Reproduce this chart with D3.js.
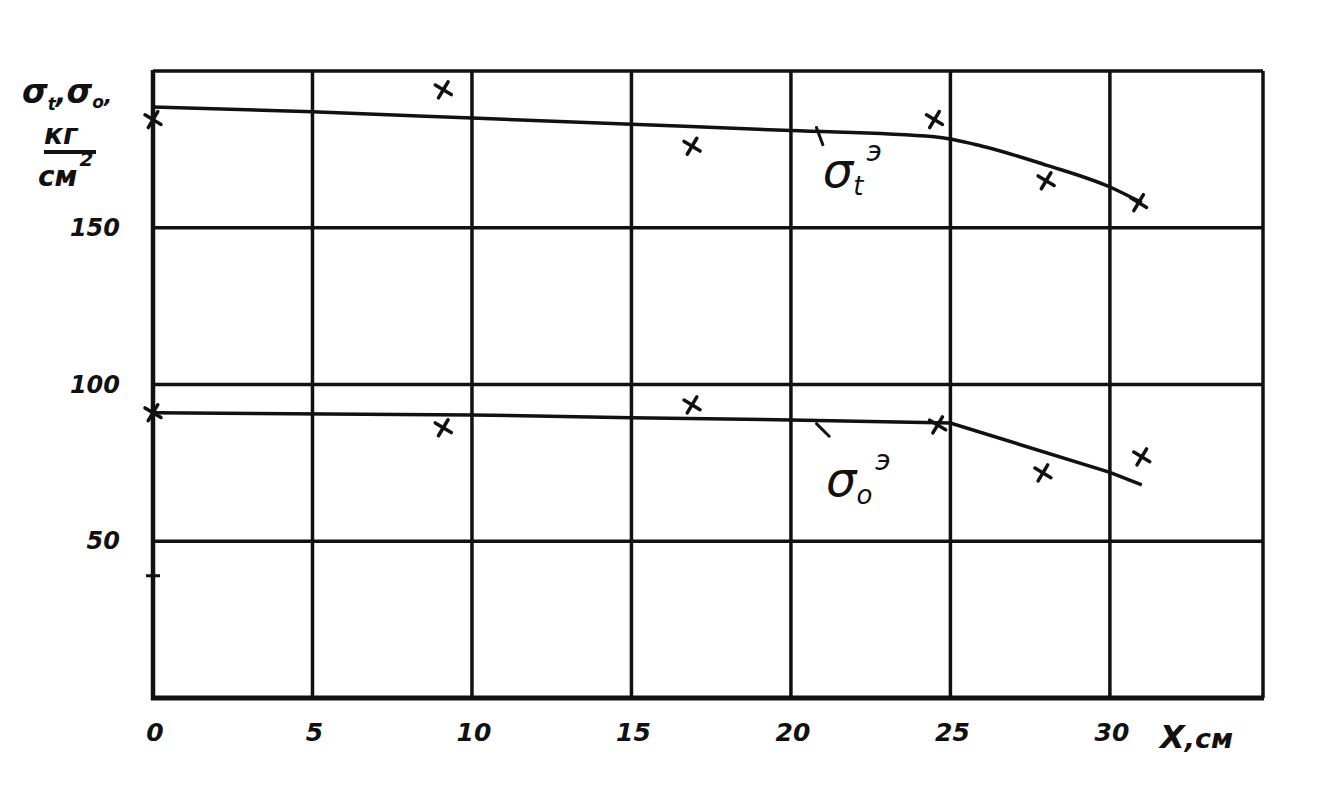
<!DOCTYPE html>
<html>
<head>
<meta charset="utf-8">
<script src="https://cdn.jsdelivr.net/npm/d3@7"></script>
<style>
  html, body { margin: 0; padding: 0; background: #fff; }
  svg text { font-family: "DejaVu Sans", sans-serif; fill: #111; }
</style>
</head>
<body>
<svg id="chart" width="1333" height="794"></svg>
<script>
// ---- data ----
const xTicks = [0, 5, 10, 15, 20, 25, 30];
const xTickLabels = ["0", "5", "10", "15", "20", "25", "30"];
const yGrid = [50, 100, 150, 200];
const yTickValues = [50, 100, 150];
const yTickLabels = ["50", "100", "150"];
const xDomain = [0, 34.8];
const yDomain = [0, 200];

// σt (upper) measured points
const sigmaTPointsX = [0, 9.1, 16.9, 24.5, 28.0, 30.9];
const sigmaTPointsY = [184.5, 194, 176, 184.5, 165, 158];
// σt smoothed curve
const sigmaTCurveX = [0, 5, 10, 15, 20, 24.5, 26, 28, 30, 31];
const sigmaTCurveY = [188.5, 187, 185, 183, 181, 179, 176, 170, 163, 158];

// σo (lower) measured points
const sigmaOPointsX = [0, 9.1, 16.9, 24.6, 27.9, 31.0];
const sigmaOPointsY = [91, 86.2, 93.5, 87.1, 71.8, 76.9];
// σo curve
const sigmaOCurveX = [0, 10, 15, 20, 25, 30, 31];
const sigmaOCurveY = [91, 90.3, 89.4, 88.7, 87.7, 72, 68];

// stray mark on the y axis
const strayMark = [0, 39];

// ---- scales ----
const svg = d3.select("#chart");
const x = d3.scaleLinear().domain(xDomain).range([153, 1263]);
const y = d3.scaleLinear().domain(yDomain).range([698, 71]);

const ink = "#111";

// grid: vertical lines
svg.append("g").selectAll("line").data(xTicks.slice(1)).join("line")
  .attr("x1", d => x(d)).attr("x2", d => x(d))
  .attr("y1", y(yDomain[1])).attr("y2", y(0))
  .attr("stroke", ink).attr("stroke-width", 3.5);

// grid: horizontal lines
svg.append("g").selectAll("line").data(yGrid).join("line")
  .attr("x1", x(0)).attr("x2", x(xDomain[1]))
  .attr("y1", d => y(d)).attr("y2", d => y(d))
  .attr("stroke", ink).attr("stroke-width", 3.5);

// frame right
svg.append("line")
  .attr("x1", x(xDomain[1])).attr("x2", x(xDomain[1]))
  .attr("y1", y(yDomain[1])).attr("y2", y(0))
  .attr("stroke", ink).attr("stroke-width", 3.5);

// axes (thicker)
svg.append("line")
  .attr("x1", x(0)).attr("x2", x(0))
  .attr("y1", y(yDomain[1]) - 1).attr("y2", y(0) + 2)
  .attr("stroke", ink).attr("stroke-width", 4.5);
svg.append("line")
  .attr("x1", x(0) - 2).attr("x2", x(xDomain[1]) + 1)
  .attr("y1", y(0)).attr("y2", y(0))
  .attr("stroke", ink).attr("stroke-width", 5);

// x tick labels
svg.append("g").selectAll("text").data(xTicks).join("text")
  .attr("x", (d) => x(d) + 2)
  .attr("y", 741)
  .attr("text-anchor", "middle")
  .attr("font-size", 25).attr("font-weight", "bold").attr("font-style", "italic")
  .attr("transform", (d) => `translate(0,0)`)
  .text((d, i) => xTickLabels[i]);

// y tick labels
svg.append("g").selectAll("text").data(yTickValues).join("text")
  .attr("x", 120)
  .attr("y", d => y(d) + 8)
  .attr("text-anchor", "end")
  .attr("font-size", 24).attr("font-weight", "bold").attr("font-style", "italic")
  .text((d, i) => yTickLabels[i]);

// axis titles
const xt = svg.append("text")
  .attr("x", 1160).attr("y", 748)
  .attr("font-size", 32).attr("font-style", "italic").attr("font-weight", "bold");
xt.append("tspan").text("X");
xt.append("tspan").attr("font-size", 27).text(",см");

const yt = svg.append("text")
  .attr("x", 22).attr("y", 103)
  .attr("font-size", 33).attr("font-style", "italic").attr("font-weight", "bold");
yt.append("tspan").text("σ");
yt.append("tspan").attr("font-size", 17).attr("dy", 7).text("t");
yt.append("tspan").attr("font-size", 28).attr("dy", -7).text(",");
yt.append("tspan").text("σ");
yt.append("tspan").attr("font-size", 17).attr("dy", 5).text("o");
yt.append("tspan").attr("font-size", 22).attr("dy", -5).text(",");

svg.append("text").attr("x", 44).attr("y", 144)
  .attr("font-size", 28).attr("font-style", "italic").attr("font-weight", "bold").text("кг");
svg.append("line").attr("x1", 44).attr("x2", 96).attr("y1", 152).attr("y2", 152)
  .attr("stroke", ink).attr("stroke-width", 4);
const unitDen = svg.append("text").attr("x", 38).attr("y", 186)
  .attr("font-size", 28).attr("font-style", "italic").attr("font-weight", "bold");
unitDen.append("tspan").text("см");
unitDen.append("tspan").attr("font-size", 20).attr("dy", -20).attr("dx", 2).text("2");

// curves
const line = d3.line().x(d => x(d[0])).y(d => y(d[1])).curve(d3.curveMonotoneX);
const tCurve = sigmaTCurveX.map((v, i) => [v, sigmaTCurveY[i]]);
const oCurve = sigmaOCurveX.map((v, i) => [v, sigmaOCurveY[i]]);
svg.append("path").datum(tCurve).attr("d", line)
  .attr("fill", "none").attr("stroke", ink).attr("stroke-width", 3.5);
svg.append("path").datum(oCurve).attr("d", d3.line().x(d => x(d[0])).y(d => y(d[1])))
  .attr("fill", "none").attr("stroke", ink).attr("stroke-width", 3.5);

// cross markers
function crosses(xs, ys) {
  const pts = xs.map((v, i) => [v, ys[i]]);
  const g = svg.append("g");
  pts.forEach(p => {
    const cx = x(p[0]), cy = y(p[1]), s = 8;
    g.append("line").attr("x1", cx - s).attr("y1", cy - s * 0.6).attr("x2", cx + s).attr("y2", cy + s * 0.6)
      .attr("stroke", ink).attr("stroke-width", 3.5).attr("stroke-linecap", "round");
    g.append("line").attr("x1", cx - s * 0.6).attr("y1", cy + s).attr("x2", cx + s * 0.6).attr("y2", cy - s)
      .attr("stroke", ink).attr("stroke-width", 3.5).attr("stroke-linecap", "round");
  });
}
crosses(sigmaTPointsX, sigmaTPointsY);
crosses(sigmaOPointsX, sigmaOPointsY);

// stray tick mark on y axis
svg.append("line")
  .attr("x1", x(strayMark[0]) - 7).attr("x2", x(strayMark[0]) + 7)
  .attr("y1", y(strayMark[1])).attr("y2", y(strayMark[1]))
  .attr("stroke", ink).attr("stroke-width", 3);

// curve labels with leader ticks
function curveLabel(lx, ly, sub, leader) {
  svg.append("line")
    .attr("x1", x(leader[0])).attr("y1", y(leader[1]))
    .attr("x2", x(leader[2])).attr("y2", y(leader[3]))
    .attr("stroke", ink).attr("stroke-width", 3).attr("stroke-linecap", "round");
  const t = svg.append("text").attr("x", x(lx)).attr("y", y(ly))
    .attr("font-size", 48).attr("font-style", "italic");
  t.append("tspan").text("σ");
  t.append("tspan").attr("font-size", 26).attr("dy", 8).text(sub);
  t.append("tspan").attr("font-size", 28).attr("dy", -34).attr("dx", 3).text("э");
}
curveLabel(21.0, 163, "t", [20.8, 182, 21.0, 176.5]);
curveLabel(21.1, 64.5, "o", [20.8, 87.5, 21.2, 83.5]);
</script>
</body>
</html>
